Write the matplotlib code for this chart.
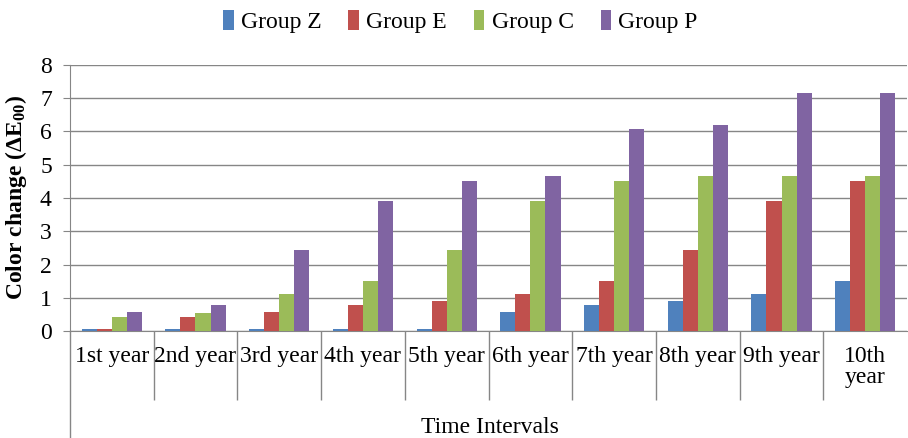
import numpy as np
import matplotlib
matplotlib.use('Agg')
import matplotlib.pyplot as plt

# data
categories = ['1st year', '2nd year', '3rd year', '4th year', '5th year',
              '6th year', '7th year', '8th year', '9th year', '10th\nyear']
group_z = [0.05, 0.05, 0.05, 0.05, 0.05, 0.57, 0.78, 0.92, 1.12, 1.50]
group_e = [0.05, 0.42, 0.57, 0.78, 0.92, 1.12, 1.50, 2.45, 3.90, 4.52]
group_c = [0.42, 0.55, 1.12, 1.50, 2.45, 3.90, 4.52, 4.65, 4.65, 4.65]
group_p = [0.57, 0.78, 2.45, 3.90, 4.52, 4.65, 6.07, 6.20, 7.15, 7.15]
series_names = ['Group Z', 'Group E', 'Group C', 'Group P']
colors = ['#4F81BD', '#C0504D', '#9BBB59', '#8064A2']

plt.rcParams['font.family'] = ['Liberation Serif', 'DejaVu Serif']
plt.rcParams['mathtext.fontset'] = 'custom'
plt.rcParams['mathtext.rm'] = 'Liberation Serif'
plt.rcParams['mathtext.bf'] = 'Liberation Serif:bold'

fig = plt.figure(figsize=(9.08, 4.38), dpi=100)
ax = fig.add_axes([0.077, 0.244, 0.922, 0.608])

x = np.arange(len(categories))
width = 0.18
all_series = [group_z, group_e, group_c, group_p]
for i, (vals, name, col) in enumerate(zip(all_series, series_names, colors)):
    ax.bar(x + (i - 1.5) * width, vals, width, color=col, label=name, zorder=3)

grid_col = '#868686'
fs = 17
ax.set_ylim(0, 8)
ax.set_xlim(-0.5, len(categories) - 0.5)
ax.set_yticks(range(0, 9))
ax.yaxis.grid(True, color=grid_col, linewidth=1, zorder=0)
ax.tick_params(axis='y', labelsize=fs, length=5, color=grid_col, pad=8)

ax.set_xticks(x)
ax.set_xticklabels(categories, fontsize=fs, linespacing=0.95)
ax.tick_params(axis='x', which='major', length=0, pad=11)
ax.set_xticks(np.arange(0.5, len(categories) - 1, 1.0), minor=True)
ax.tick_params(axis='x', which='minor', length=50, color=grid_col, width=1)

for side in ['top', 'right']:
    ax.spines[side].set_visible(False)
ax.spines['bottom'].set_color(grid_col)
ax.spines['left'].set_color(grid_col)
ax.spines['left'].set_bounds(0, 8)

# extend the left axis line down through the label area
ax.plot([-0.5, -0.5], [0, -3.2], color=grid_col, linewidth=1, clip_on=False)

ax.set_ylabel(r'Color change ($\mathbf{\Delta E_{00}}$)', fontsize=fs,
              fontweight='bold', labelpad=8)
fig.text(0.54, 0.0, 'Time Intervals', fontsize=fs, ha='center', va='bottom')

ax.legend(loc='upper center', bbox_to_anchor=(0.507, 1.025), bbox_transform=fig.transFigure,
          ncol=4, frameon=False, fontsize=fs, handlelength=0.45, handleheight=0.9,
          handletextpad=0.3, columnspacing=1.15)

fig.savefig('out.png', dpi=100)
